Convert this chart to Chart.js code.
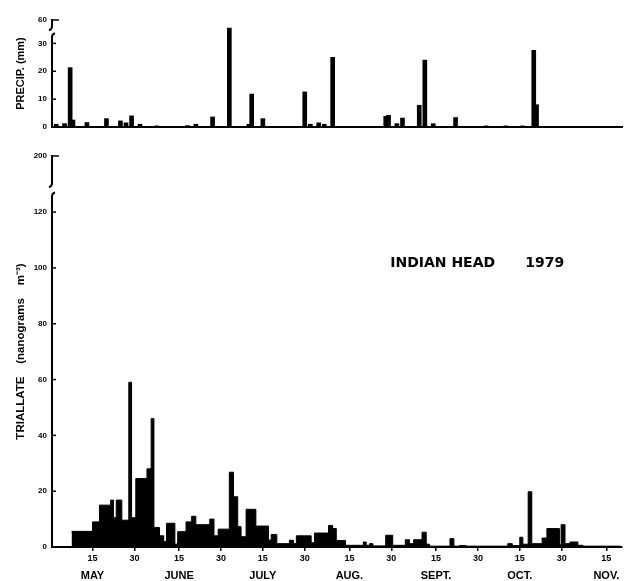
<!DOCTYPE html>
<html lang="en">
<head>
  <meta charset="UTF-8">
  <title>Indian Head 1979 - precipitation and triallate</title>
  <script src="https://cdn.jsdelivr.net/npm/chart.js"></script>
  <style>
    body { margin: 0; background: #fff; }
    #wrap { position: relative; width: 626px; height: 581px; }
    .panel { position: absolute; left: 0; width: 626px; }
  </style>
</head>
<body>
  <div id="wrap">
    <div class="panel" style="top:0;height:140px"><canvas id="precipChart"></canvas></div>
    <div class="panel" style="top:140px;height:441px"><canvas id="triChart"></canvas></div>
  </div>

  <script>
    // x values are day of year 1979 (May 15 = 135)
    const tickDays = [135, 150, 166, 181, 196, 211, 227, 242, 258, 273, 288, 303, 319];
    const tickLabels = ['15', '30', '15', '30', '15', '30', '15', '30', '15', '30', '15', '30', '15'];
    const monthNames = ['MAY', 'JUNE', 'JULY', 'AUG.', 'SEPT.', 'OCT.', 'NOV.'];
    const monthDays = [135, 166, 196, 227, 258, 288, 319];

    // daily precipitation (mm)
    const precipDays = [122, 125, 127, 128, 133, 140, 145, 147, 149, 152, 158, 169, 172, 178, 184, 191, 192, 196,
      211, 213, 216, 218, 221, 240, 241, 244, 246, 252, 254, 257, 265, 276, 283, 289, 293, 294];
    const precipMm = [1, 1.2, 21.3, 2.5, 1.6, 3, 2.2, 1.5, 4, 1, 0.4, 0.5, 1, 3.6, 35.5, 1, 11.8, 3,
      12.6, 1, 1.5, 1, 25, 3.8, 4.2, 1.2, 3.2, 7.8, 24, 1.2, 3.4, 0.4, 0.4, 0.4, 27.5, 8];

    // triallate (ng m-3), value held from each start day until the next one
    const triStart = [127.5, 135, 137.5, 141.5, 142.5, 143.5, 145.5, 148, 149, 150.5, 154.5, 156, 157, 159, 160.5,
      161.5, 164.5, 165.5, 168.5, 170.5, 172, 177, 178.5, 180, 184, 185.5, 187, 188.2, 190, 193.5, 198, 199, 201,
      205.5, 207, 208, 213.3, 214.5, 219.5, 221, 222.3, 225.6, 232, 233, 234.2, 235.4, 240, 242.5, 247, 248.5, 250,
      253, 254.5, 255.7, 263, 264.4, 266.4, 268.8, 283.7, 285.3, 288, 289.1, 291, 292.3, 296, 297.7, 302.2, 302.8,
      304.2, 306, 308.8, 310.6, 324];
    const triValue = [5.6, 9, 15, 16.8, 10.5, 16.8, 9.6, 59, 10.5, 24.5, 28, 46, 7, 4, 2,
      8.5, 1, 5.5, 9, 11, 8, 10, 4, 6.4, 26.8, 18, 7.3, 3.7, 13.5, 7.5, 2.5, 4.5, 1.2,
      2.4, 1.2, 4, 1.5, 5, 7.7, 6.6, 2.3, 0.6, 1.8, 0.6, 1.2, 0.4, 4.2, 0.6, 2.6, 1.2, 2.6,
      5.3, 1, 0.3, 3, 0.3, 0.5, 0.3, 1.2, 0.5, 3.5, 1, 19.8, 1.2, 3.2, 6.6, 0.8, 8,
      1.2, 1.8, 0.6, 0.3, 0];

    // broken y axes: top tick stands for 60 mm / 200 ng
    const precipTicks = [0, 10, 20, 30, 38.4];
    const precipTickLabels = ['0', '10', '20', '30', '60'];
    const triTicks = [0, 20, 40, 60, 80, 100, 120, 140.1];
    const triTickLabels = ['0', '20', '40', '60', '80', '100', '120', '200'];

    Chart.defaults.font.family = '"Liberation Sans", Arial, sans-serif';
    Chart.defaults.color = '#000';

    const xMin = 120.5, xMax = 324.6;

    const axisBreak = {
      id: 'axisBreak',
      afterDraw(chart, args, opts) {
        const ctx = chart.ctx, y = chart.scales.y, x0 = chart.chartArea.left;
        ctx.save();
        ctx.strokeStyle = '#000';
        ctx.lineWidth = 1.5;
        y.ticks.forEach((t, i) => {
          const py = y.getPixelForValue(t.value);
          ctx.beginPath();
          ctx.moveTo(x0, py);
          ctx.lineTo(x0 + (i === y.ticks.length - 1 ? 7 : 4), py);
          ctx.stroke();
        });
        const pLow = y.getPixelForValue(opts.from), pHigh = y.getPixelForValue(opts.to);
        ctx.fillStyle = '#fff';
        ctx.fillRect(x0 - 3, pHigh, 6, pLow - pHigh);
        ctx.lineWidth = 2;
        ctx.beginPath();
        ctx.moveTo(x0, pLow + 1);
        ctx.quadraticCurveTo(x0, pLow - 2, x0 + 3, pLow - 3);
        ctx.stroke();
        ctx.beginPath();
        ctx.moveTo(x0, pHigh - 1);
        ctx.quadraticCurveTo(x0, pHigh + 2, x0 - 3, pHigh + 3);
        ctx.stroke();
        ctx.restore();
      }
    };

    const annotate = {
      id: 'annotate',
      afterDraw(chart) {
        const ctx = chart.ctx, x = chart.scales.x, y = chart.scales.y;
        ctx.save();
        ctx.fillStyle = '#000';
        ctx.textBaseline = 'middle';
        ctx.textAlign = 'center';
        ctx.font = 'bold 11px "Liberation Sans", Arial, sans-serif';
        monthNames.forEach((m, i) => {
          ctx.fillText(m, x.getPixelForValue(monthDays[i]), chart.chartArea.bottom + 28.5);
        });
        ctx.textAlign = 'left';
        ctx.font = 'bold 14px "DejaVu Sans", sans-serif';
        ctx.fillText('INDIAN HEAD', x.getPixelForValue(241.6), y.getPixelForValue(101.7));
        ctx.fillText('1979', x.getPixelForValue(290), y.getPixelForValue(101.7));
        ctx.restore();
      }
    };

    new Chart(document.getElementById('precipChart'), {
      type: 'bar',
      data: {
        datasets: [{
          data: precipDays.map((d, i) => ({ x: d, y: precipMm[i] })),
          backgroundColor: '#000',
          barThickness: 4
        }]
      },
      options: {
        responsive: true,
        maintainAspectRatio: false,
        animation: false,
        layout: { padding: { top: 20, right: 4, left: 0, bottom: 0 } },
        plugins: {
          legend: { display: false },
          tooltip: { enabled: false },
          axisBreak: { from: 32.6, to: 35.8 }
        },
        scales: {
          x: {
            type: 'linear', min: xMin, max: xMax, offset: false,
            ticks: { display: false },
            grid: { display: false, drawTicks: false, offset: false },
            border: { color: '#000', width: 2 },
            afterFit: s => { s.height = 13; }
          },
          y: {
            min: 0, max: 38.4,
            afterBuildTicks: s => { s.ticks = precipTicks.map(v => ({ value: v })); },
            afterFit: s => { s.width = 52; },
            ticks: { callback: (v, i) => precipTickLabels[i], font: { size: 8, weight: 'bold' }, padding: 5 },
            grid: { display: false, drawTicks: false },
            border: { color: '#000', width: 2 },
            title: { display: true, text: 'PRECIP. (mm)', font: { size: 11, weight: 'bold' }, padding: { top: 14, bottom: 0 } }
          }
        }
      },
      plugins: [axisBreak]
    });

    new Chart(document.getElementById('triChart'), {
      type: 'line',
      data: {
        datasets: [{
          data: triStart.map((d, i) => ({ x: d, y: triValue[i] })),
          stepped: true,
          fill: 'origin',
          backgroundColor: '#000',
          borderColor: '#000',
          borderWidth: 1,
          pointRadius: 0
        }]
      },
      options: {
        responsive: true,
        maintainAspectRatio: false,
        animation: false,
        layout: { padding: { top: 16, right: 4, left: 0, bottom: 0 } },
        plugins: {
          legend: { display: false },
          tooltip: { enabled: false },
          axisBreak: { from: 126, to: 130 }
        },
        scales: {
          x: {
            type: 'linear', min: xMin, max: xMax, offset: false,
            afterBuildTicks: s => { s.ticks = tickDays.map(v => ({ value: v })); },
            afterFit: s => { s.height = 34; },
            ticks: { autoSkip: false, maxRotation: 0, callback: (v, i) => tickLabels[i], font: { size: 9, weight: 'bold' }, padding: 2 },
            grid: { display: true, drawOnChartArea: false, drawTicks: true, tickLength: 4, color: '#000', lineWidth: 1.5 },
            border: { color: '#000', width: 2 }
          },
          y: {
            min: 0, max: 140.1,
            afterBuildTicks: s => { s.ticks = triTicks.map(v => ({ value: v })); },
            afterFit: s => { s.width = 52; },
            ticks: { callback: (v, i) => triTickLabels[i], font: { size: 8, weight: 'bold' }, padding: 5 },
            grid: { display: false, drawTicks: false },
            border: { color: '#000', width: 2 },
            title: { display: true, text: 'TRIALLATE    (nanograms    m⁻³)', font: { size: 11.5, weight: 'bold' }, padding: { top: 14, bottom: 0 } }
          }
        }
      },
      plugins: [axisBreak, annotate]
    });
  </script>
</body>
</html>
